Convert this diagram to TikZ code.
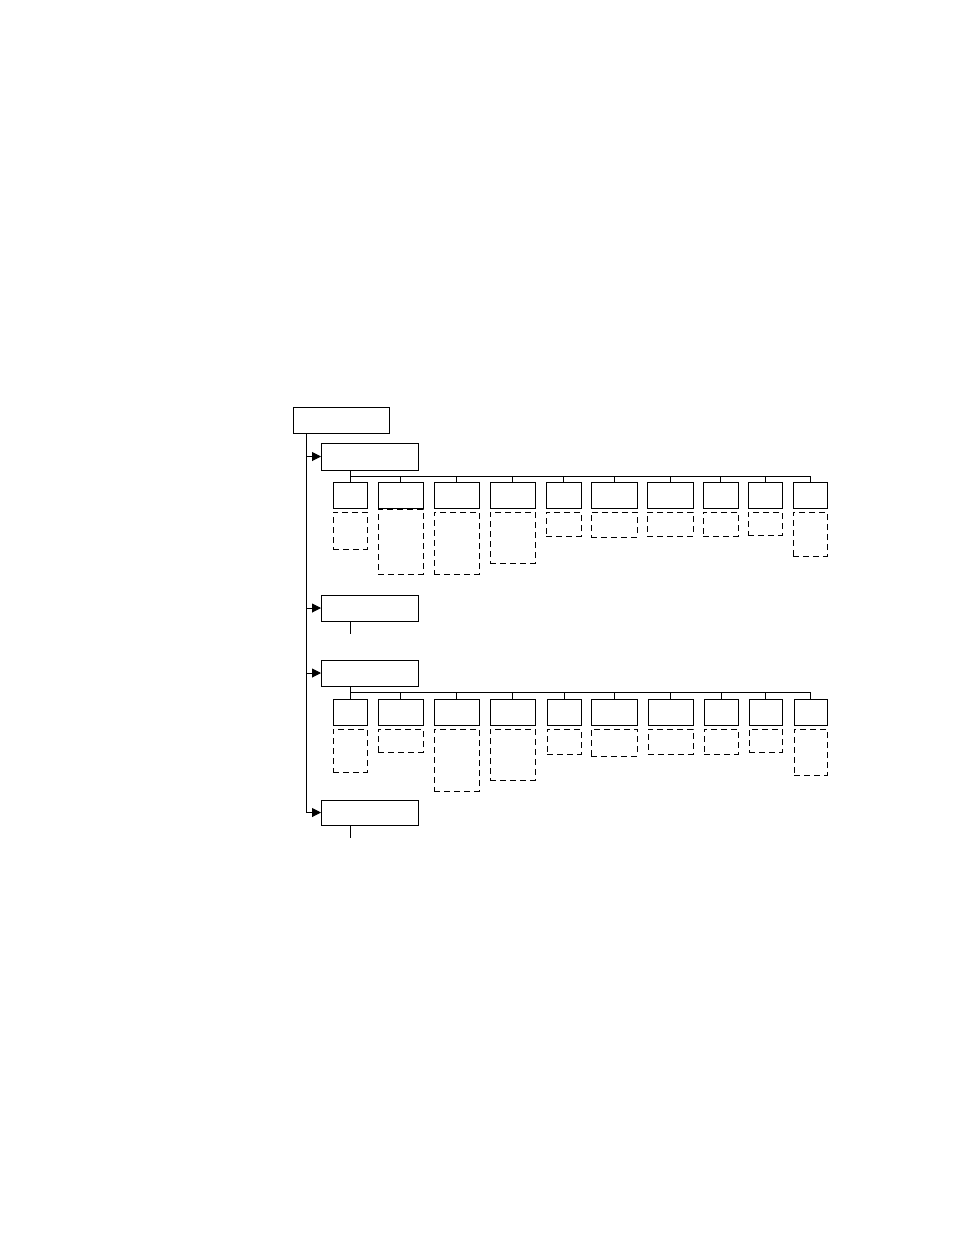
\documentclass[tikz,border=0pt]{standalone}
\usetikzlibrary{calc}
\usetikzlibrary{arrows.meta}
\tikzstyle{box}=[draw,line width=1bp,inner sep=0pt,outer sep=0pt,anchor=north west]
\tikzstyle{leafbox}=[box,minimum height=26bp]
\tikzstyle{memobox}=[box,dash pattern=on 6bp off 4bp]
\tikzstyle{feed}=[-{Triangle[length=9bp,width=9bp]},line width=1bp]
\tikzstyle{wire}=[line width=1bp]
\newcommand{\drawgroup}[4]{% Syntax: {parent}{top of leaves}{y of bus}{list of centre/width/memo height/gap}
  \coordinate (#1-bus) at (0,#3);
  \foreach \cx/\w/\h/\gap [count=\i] in {#4} {
    \node[leafbox,minimum width=\w bp] (#1-\i) at (\cx-\w/2,#2) {};
    \node[memobox,minimum width=\w bp,minimum height=\h bp] (#1-m\i) at ($(#1-\i.south west)+(0,\gap)$) {};
    \draw[wire] (#1-\i.north) -- (#1-\i.north |- #1-bus);
  }
  \draw[wire] (#1.south -| #1-1.north) -- (#1-1.north |- #1-bus);
  \draw[wire] (#1-1.north |- #1-bus) -- (#1-10.north |- #1-bus);
}
\newcommand{\drawstub}[1]{% short line under an empty parent
  \coordinate (#1-end) at ($(#1.south -| g1-1.north)+(0,13)$);
  \draw[wire] (#1.south -| g1-1.north) -- (#1-end);
}

\begin{document}
\begin{tikzpicture}[x=1bp,y=-1bp]
  \useasboundingbox (0,0) rectangle (954,1235);
  \node[box,minimum width=96bp,minimum height=26bp] (root) at (293,407) {};
  \node[box,minimum width=97bp,minimum height=27bp] (g1) at (321,443) {};
  \node[box,minimum width=97bp,minimum height=26bp] (g2) at (321,595) {};
  \node[box,minimum width=97bp,minimum height=26bp] (g3) at (321,660) {};
  \node[box,minimum width=97bp,minimum height=25bp] (g4) at (321,800) {};
  % trunk and feeds
  \coordinate (trunk) at ($(root.south west)+(13,0)$);
  \draw[feed] (trunk) |- (g4.west);
  \foreach \g in {g1,g2,g3}
    \draw[feed] (trunk |- \g.west) -- (\g.west);
  % first group
  \drawgroup{g1}{482}{476}{350/34/37/4, 400.5/45/65/1, 456.5/45/62/4, 512.5/45/51/4, 563.5/35/24/4,
    614/46/25/4, 670/46/24/4, 720.5/35/24/4, 765/34/23/4, 810/34/44/4}
  \drawstub{g2}
  % second group
  \drawgroup{g3}{699}{692}{350/34/43/4, 400.5/45/23/4, 456.5/45/62/4, 512.5/45/51/4, 564/34/25/4,
    614/46/27/4, 670.5/45/25/4, 721/34/25/4, 765.5/33/23/4, 810.5/33/46/4}
  \drawstub{g4}
\end{tikzpicture}
\end{document}
